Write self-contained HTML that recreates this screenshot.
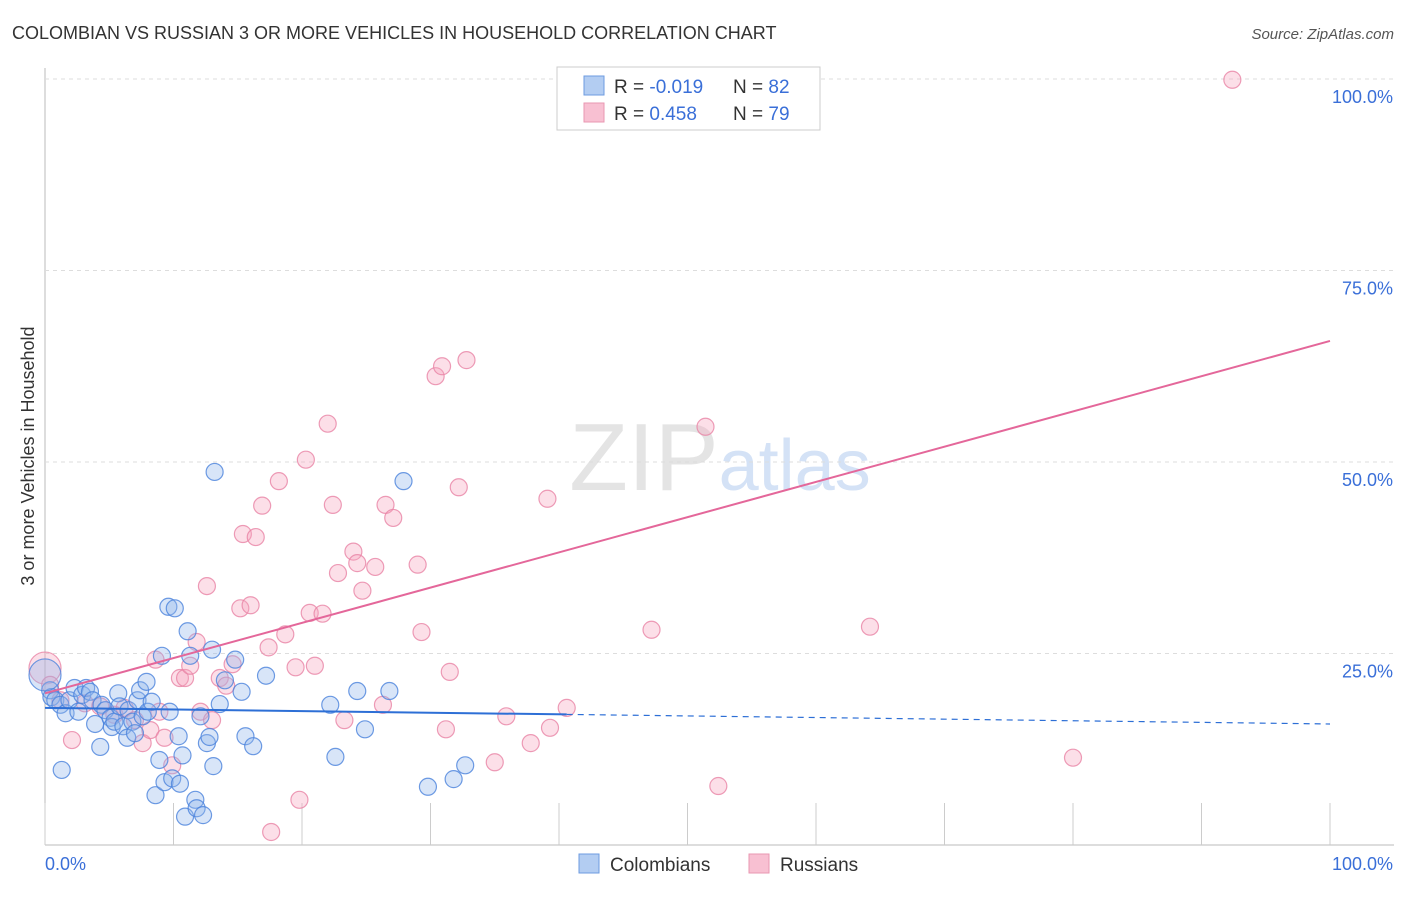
<!DOCTYPE html>
<html><head><meta charset="utf-8"><style>
body{margin:0;background:#fff;font-family:"Liberation Sans",sans-serif}
svg text{font-family:"Liberation Sans",sans-serif}
</style></head><body>
<svg id="chart" width="1406" height="892" xmlns="http://www.w3.org/2000/svg">
<text x="12" y="39" font-size="18" fill="#333">COLOMBIAN VS RUSSIAN 3 OR MORE VEHICLES IN HOUSEHOLD CORRELATION CHART</text>
<text x="1394" y="39" font-size="15" fill="#555" text-anchor="end" font-style="italic">Source: ZipAtlas.com</text>
<text x="720" y="490" font-size="96" text-anchor="middle" fill="#e4e4e4" font-family="Liberation Serif">ZIP<tspan fill="#d4e2f6" font-family="Liberation Sans" font-size="72">atlas</tspan></text>
<text transform="translate(34,456) rotate(-90)" font-size="18" fill="#333" text-anchor="middle">3 or more Vehicles in Household</text>
<g id="grid"></g><g id="marks"></g><g id="trends"></g>
<g>
<rect x="557" y="67" width="263" height="63" fill="#fff" stroke="#ccc"/>
<rect x="584" y="76" width="20" height="19" fill="#b3cdf2" stroke="#6e9be0"/>
<rect x="584" y="103" width="20" height="19" fill="#f8c0d2" stroke="#e997b2"/>
<text x="614" y="93" font-size="19" fill="#333">R = <tspan fill="#3a6fd8">-0.019</tspan></text>
<text x="733" y="93" font-size="19" fill="#333">N = <tspan fill="#3a6fd8">82</tspan></text>
<text x="614" y="120" font-size="19" fill="#333">R = <tspan fill="#3a6fd8"> 0.458</tspan></text>
<text x="733" y="120" font-size="19" fill="#333">N = <tspan fill="#3a6fd8">79</tspan></text>
</g>
<g>
<rect x="579" y="854" width="20" height="19" fill="#b3cdf2" stroke="#6e9be0"/>
<text x="610" y="871" font-size="19" fill="#333">Colombians</text>
<rect x="749" y="854" width="20" height="19" fill="#f8c0d2" stroke="#e997b2"/>
<text x="780" y="871" font-size="19" fill="#333">Russians</text>
</g>
</svg>
<script>
const yTicks=[25,50,75,100];
const yTickLabels=["25.0%","50.0%","75.0%","100.0%"];
const xTicks=[0,10,20,30,40,50,60,70,80,90,100];
const blueX=[0.4,0.5,0.8,1.2,1.3,1.6,1.9,2.3,2.6,2.9,3.2,3.5,3.7,3.9,4.3,4.4,4.7,5.1,5.2,5.4,5.7,5.8,6.1,6.4,6.5,6.8,7.0,7.2,7.4,7.6,7.9,8.0,8.3,8.6,8.9,9.1,9.3,9.6,9.7,9.9,10.1,10.4,10.5,10.7,10.9,11.1,11.3,11.7,11.8,12.1,12.3,12.6,12.8,13.0,13.1,13.2,13.6,14.0,14.8,15.3,15.6,16.2,17.2,22.2,22.6,24.3,24.9,26.8,27.9,29.8,31.8,32.7,0];
const blueY=[20.2,19.3,18.9,18.3,9.8,17.2,18.9,20.5,17.4,19.6,20.5,20.0,18.9,15.8,12.8,18.3,17.6,16.6,15.4,16.1,19.8,18.1,15.5,14.0,17.6,16.1,14.6,18.9,20.2,16.8,21.3,17.4,18.7,6.5,11.1,24.7,8.2,31.1,17.4,8.7,30.9,14.2,8.0,11.7,3.7,27.9,24.7,5.9,4.8,16.8,3.9,13.3,14.1,25.5,10.3,48.7,18.4,21.5,24.2,20.0,14.2,12.9,22.1,18.3,11.5,20.1,15.1,20.1,47.5,7.6,8.6,10.4,22.2];
const pinkX=[0,0.4,1.2,2.1,3.1,4.3,5.4,6.2,7.0,7.6,8.2,8.6,8.9,9.3,9.9,10.5,10.9,11.3,11.8,12.1,12.6,13.0,13.6,14.1,14.6,15.2,15.4,16.0,16.4,16.9,17.4,17.6,18.2,18.7,19.5,19.8,20.3,20.6,21.0,21.6,22.0,22.4,22.8,23.3,24.0,24.3,24.7,25.7,26.3,26.5,27.1,29.0,29.3,30.4,30.9,31.2,31.5,32.2,32.8,35.0,35.9,37.8,39.1,39.3,40.6,47.2,51.4,52.4,64.2,80.0,92.4];
const pinkY=[23.1,20.9,18.9,13.7,18.5,18.1,17.0,17.9,16.3,13.3,15.0,24.2,17.4,14.0,10.4,21.8,21.8,23.4,26.5,17.4,33.8,16.3,21.8,20.8,23.6,30.9,40.6,31.3,40.2,44.3,25.8,1.7,47.5,27.5,23.2,5.9,50.3,30.3,23.4,30.2,55.0,44.4,35.5,16.3,38.3,36.8,33.2,36.3,18.3,44.4,42.7,36.6,27.8,61.2,62.5,15.1,22.6,46.7,63.3,10.8,16.8,13.3,45.2,15.3,17.9,28.1,54.6,7.7,28.5,11.4,99.9];
const blueTrend=[17.9,15.8], blueSolidEnd=40.6;
const pinkTrend=[19.8,65.8];
const X0=45,X1=1330,Y0=845,Y100=79;
const sx=v=>X0+(X1-X0)*v/100, sy=v=>Y0-(Y0-Y100)*v/100;
const NS="http://www.w3.org/2000/svg";
function mk(tag,attrs,parent){const e=document.createElementNS(NS,tag);for(const k in attrs)e.setAttribute(k,attrs[k]);parent.appendChild(e);return e;}
const grid=document.getElementById('grid'),marks=document.getElementById('marks'),trends=document.getElementById('trends');
let ax=mk('line',{x1:X0,y1:68,x2:X0,y2:Y0,stroke:'#bbb'},grid);


let bx=mk('line',{x1:X0,y1:Y0,x2:1394,y2:Y0,stroke:'#bbb'},grid);


yTicks.forEach((t,i)=>{
 let g=mk('line',{x1:X0,y1:sy(t),x2:1394,y2:sy(t),stroke:'#ddd','stroke-dasharray':'4,4'},grid);
 
 
 let l=mk('text',{x:1393,y:sy(t)+24,'font-size':18,fill:'#3a6fd8','text-anchor':'end'},grid);
 l.textContent=yTickLabels[i];
 
 
});
xTicks.forEach(t=>{
 let k=mk('line',{x1:sx(t),y1:Y0,x2:sx(t),y2:Y0-42,stroke:'#ccc'},grid);
 
 
});
let xl=mk('text',{x:45,y:870,'font-size':18,fill:'#3a6fd8'},grid);xl.textContent='0.0%';


let xr=mk('text',{x:1393,y:870,'font-size':18,fill:'#3a6fd8','text-anchor':'end'},grid);xr.textContent='100.0%';


function pts(xs,ys,fill,stroke,name){xs.forEach((x,i)=>{
 let r=(x===0)?16:8.5;
 let c=mk('circle',{cx:sx(x),cy:sy(ys[i]),r:r,fill:fill,'fill-opacity':0.35,stroke:stroke,'stroke-opacity':0.8,'stroke-width':1.2},marks);
 
 
});}
pts(pinkX,pinkY,'#f5a3bd','#e883a5','russian-point');
pts(blueX,blueY,'#8fb5ec','#4a82dc','colombian-point');
const by=x=>blueTrend[0]+(blueTrend[1]-blueTrend[0])*x/100;
let b1=mk('line',{x1:sx(0),y1:sy(by(0)),x2:sx(blueSolidEnd),y2:sy(by(blueSolidEnd)),stroke:'#2d6fd6','stroke-width':2},trends);


let b2=mk('line',{x1:sx(blueSolidEnd),y1:sy(by(blueSolidEnd)),x2:sx(100),y2:sy(by(100)),stroke:'#2d6fd6','stroke-width':1.2,'stroke-dasharray':'6,5'},trends);


let p1=mk('line',{x1:sx(0),y1:sy(pinkTrend[0]),x2:sx(100),y2:sy(pinkTrend[1]),stroke:'#e4679a','stroke-width':2},trends);


</script>
</body></html>
